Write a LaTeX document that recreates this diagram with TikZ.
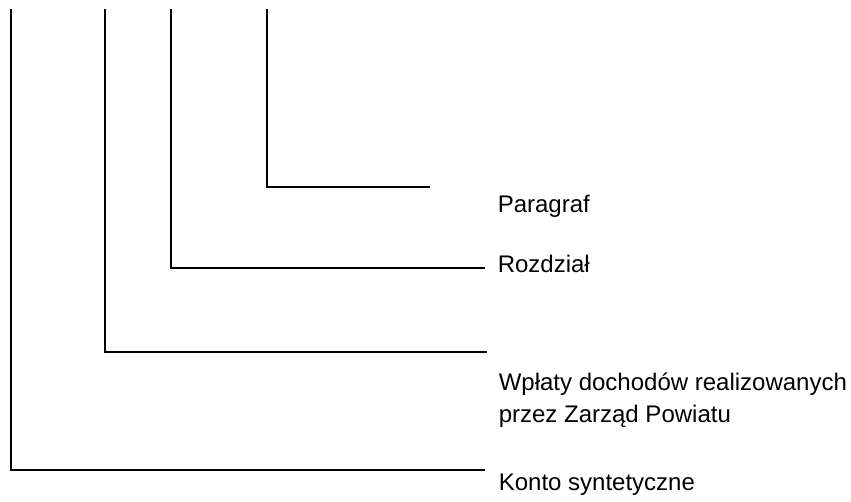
\documentclass[tikz,border=0pt]{standalone}
\usepackage{fontspec}
\setmainfont{Liberation Sans}
\usetikzlibrary{positioning}

\begin{document}
\begin{tikzpicture}[x=1pt, y=-1pt, line width=1.6pt,
    lbl/.style={anchor=base west, inner sep=0pt, align=left,
                font=\fontsize{24}{32}\selectfont}]
    \useasboundingbox (0,0) rectangle (851,501);

    % tops of the four levels
    \coordinate (kt) at (11,9);
    \coordinate (wt) at (105,9);
    \coordinate (rt) at (171,9);
    \coordinate (pt) at (267,9);

    % corners
    \coordinate (kc) at (11,470);
    \coordinate (wc) at (105,352);
    \coordinate (rc) at (171,268);
    \coordinate (pc) at (267,187);

    % right ends
    \coordinate (ke) at (485,470);
    \coordinate (we) at (487,352);
    \coordinate (re) at (485,268);
    \coordinate (pe) at (430,187);

    \node[lbl] (par) at (497,212) {Paragraf};
    \node[lbl] (roz) at (497,272) {Rozdział};
    % base of a two-line node sits on its last line
    \node[lbl] (wpl) at (498,422) {Wpłaty dochodów realizowanych\\przez Zarząd Powiatu};
    \node[lbl] (kon) at (498,490) {Konto syntetyczne};

    \draw (kt) -- (kc) -- (ke);
    \draw (wt) -- (wc) -- (we);
    \draw (rt) -- (rc) -- (re);
    \draw (pt) -- (pc) -- (pe);
\end{tikzpicture}
\end{document}
